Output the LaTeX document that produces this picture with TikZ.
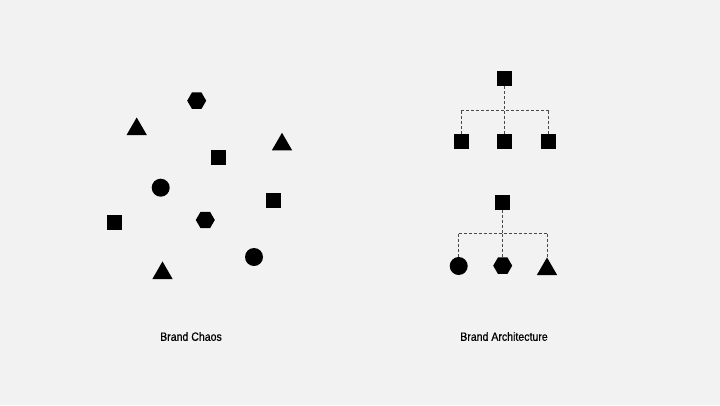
\documentclass[tikz,border=0pt]{standalone}
\usepackage{fontspec}
\setmainfont{Liberation Sans}
\newfontfamily\lblfont[FakeStretch=0.88,FakeBold=0.6]{Liberation Sans}
\usetikzlibrary{shapes.geometric}
\definecolor{bg}{HTML}{F2F2F2}
\definecolor{ink}{HTML}{000000}
\definecolor{dashc}{HTML}{4A4A4A}
\tikzset{
  shp/.style={fill=ink, draw=none, inner sep=0pt, outer sep=0pt},
  sq/.style={shp, rectangle, minimum size=15pt},
  circ/.style={shp, circle, minimum size=18pt},
  hexa/.style={shp, regular polygon, regular polygon sides=6, minimum size=19pt},
  tri/.style={shp, regular polygon, regular polygon sides=3, minimum size=23.5pt},
  link/.style={draw=dashc, line width=0.9pt, dash pattern=on 3pt off 2pt},
  lbl/.style={font=\lblfont\fontsize{12}{14}\selectfont, text=ink, inner sep=0pt}
}
\begin{document}
\begin{tikzpicture}[x=1pt,y=-1pt]
\useasboundingbox (0,0) rectangle (720,405);
\fill[bg] (0,0) rectangle (720,405);
% chaos
\node[hexa] (h1) at (196.7,100.7) {};
\node[tri] (t1) at (136.7,129.2) {};
\node[tri] (t2) at (282,144.5) {};
\node[sq] (s1) at (218.5,157) {};
\node[circ] (c1) at (160.7,187.7) {};
\node[sq] (s2) at (273.7,200.8) {};
\node[sq] (s3) at (114.3,222.7) {};
\node[hexa] (h2) at (205.3,220) {};
\node[circ] (c2) at (254,257) {};
\node[tri] (t3) at (162.5,273.2) {};
% architecture tree 1
\node[sq] (r1) at (504.8,78.7) {};
\node[sq] (a1) at (461,141.7) {};
\node[sq] (a2) at (504.8,141.7) {};
\node[sq] (a3) at (548.8,141.7) {};
\coordinate (bus1) at (504.8,110.7);
\draw[link] (r1.south) -- (r1.south |- bus1);
\draw[link] (a1.north |- bus1) -- (a3.north |- bus1);
\draw[link] (a1.north |- bus1) -- (a1.north);
\draw[link] (a2.north |- bus1) -- (a2.north);
\draw[link] (a3.north |- bus1) -- (a3.north);
% architecture tree 2
\node[sq] (r2) at (502.8,202) {};
\node[circ] (b1) at (458.7,266) {};
\node[hexa] (b2) at (502.7,265.7) {};
\node[tri] (b3) at (547,269.2) {};
\coordinate (bus2) at (502.8,233.7);
\draw[link] (r2.south) -- (r2.south |- bus2);
\draw[link] (b1.north |- bus2) -- (b3.north |- bus2);
\draw[link] (b1.north |- bus2) -- (b1.north);
\draw[link] (b2.north |- bus2) -- (b2.north);
\draw[link] (b3.north |- bus2) -- (b3.north);
% labels
\node[lbl] (l1) at (191,336.5) {Brand Chaos};
\node[lbl] (l2) at (504,336.5) {Brand Architecture};
\end{tikzpicture}
\end{document}
